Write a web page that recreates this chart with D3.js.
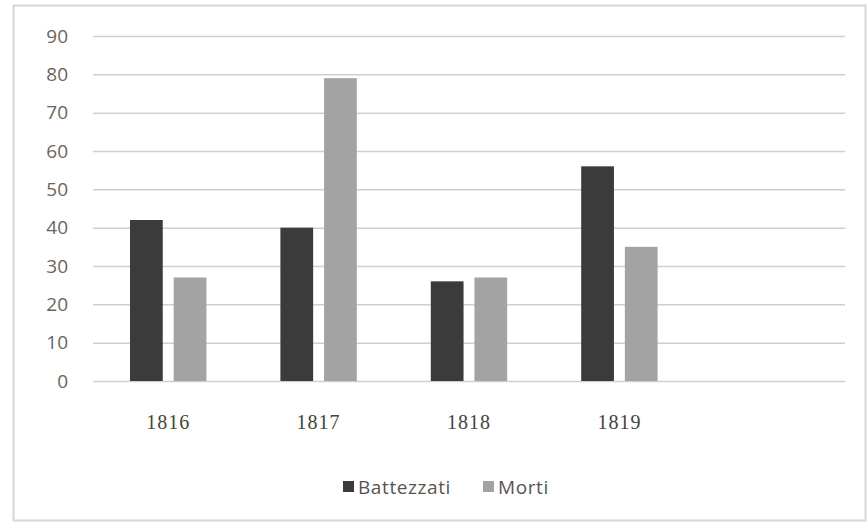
<!DOCTYPE html>
<html>
<head>
<meta charset="utf-8">
<script src="https://cdn.jsdelivr.net/npm/d3@7"></script>
<style>
  html, body { margin: 0; padding: 0; background: #fff; }
  svg { display: block; }
</style>
</head>
<body>
<svg id="chart" width="867" height="523"></svg>
<script>
// Baptisms and deaths per year
const years = ["1816", "1817", "1818", "1819", ""];
const seriesNames = ["Battezzati", "Morti"];
const battezzati = [42, 40, 26, 56, null];
const morti = [27, 79, 27, 35, null];
const yTicks = [0, 10, 20, 30, 40, 50, 60, 70, 80, 90];
const colors = ["#3b3b3b", "#a3a3a3"];

const svg = d3.select("#chart");
const W = 867, H = 523;
const margin = { left: 93, right: 22, top: 36, bottom: 142 };
const plotW = W - margin.left - margin.right;
const plotH = H - margin.top - margin.bottom;

// outer frame of the chart area
svg.append("rect")
  .attr("x", 13.5).attr("y", 5.5)
  .attr("width", W - 15).attr("height", H - 8)
  .attr("fill", "#fff").attr("stroke", "#d6d6d6").attr("stroke-width", 2);

const g = svg.append("g").attr("transform", `translate(${margin.left},${margin.top})`);

const x = d3.scaleBand().domain(d3.range(years.length)).range([0, plotW]).paddingInner(0).paddingOuter(0);
const x1 = d3.scaleBand().domain(seriesNames).range([37, x.bandwidth() - 37]).paddingInner(0.25);
const y = d3.scaleLinear().domain([0, 90]).range([plotH, 0]);

// horizontal gridlines
g.append("g")
  .call(d3.axisLeft(y).tickValues(yTicks).tickSize(-plotW).tickFormat(""))
  .call(a => a.select(".domain").remove())
  .call(a => a.selectAll("line").attr("stroke", "#cfcfcf").attr("stroke-width", 1.5));

// y axis labels
g.append("g")
  .attr("transform", "translate(-25,0)")
  .call(d3.axisLeft(y).tickValues(yTicks).tickSize(0).tickPadding(0))
  .call(a => a.select(".domain").remove())
  .call(a => a.selectAll("text")
    .attr("fill", "#666")
    .style("font-family", "'Open Sans', sans-serif")
    .style("font-size", "19px"));

// bars
const series = [battezzati, morti];
seriesNames.forEach((name, si) => {
  g.append("g").selectAll("rect")
    .data(series[si].map((v, i) => ({ v, i })).filter(d => d.v != null))
    .join("rect")
    .attr("x", d => x(d.i) + x1(name))
    .attr("y", d => y(d.v))
    .attr("width", x1.bandwidth())
    .attr("height", d => plotH - y(d.v))
    .attr("fill", colors[si]);
});

// x axis labels
g.append("g")
  .attr("transform", `translate(0,${plotH + 34})`)
  .call(d3.axisBottom(x).tickSize(0).tickPadding(0).tickFormat(i => years[i]))
  .call(a => a.select(".domain").remove())
  .call(a => a.selectAll("text")
    .attr("fill", "#444")
    .style("font-family", "'Liberation Serif', serif")
    .style("font-size", "20px")
    .style("letter-spacing", "1px"));

// legend
const legend = svg.append("g").attr("transform", "translate(343,487)");
const legendItems = [{ name: seriesNames[0], dx: 0 }, { name: seriesNames[1], dx: 140 }];
legendItems.forEach((d, i) => {
  const item = legend.append("g").attr("transform", `translate(${d.dx},0)`);
  item.append("rect").attr("x", 0).attr("y", -6).attr("width", 11).attr("height", 11).attr("fill", colors[i]);
  item.append("text").attr("x", 15).attr("y", 7)
    .attr("fill", "#555")
    .style("font-family", "'Open Sans', sans-serif")
    .style("font-size", "19px")
    .style("letter-spacing", "0.6px")
    .text(d.name);
});
</script>
</body>
</html>
